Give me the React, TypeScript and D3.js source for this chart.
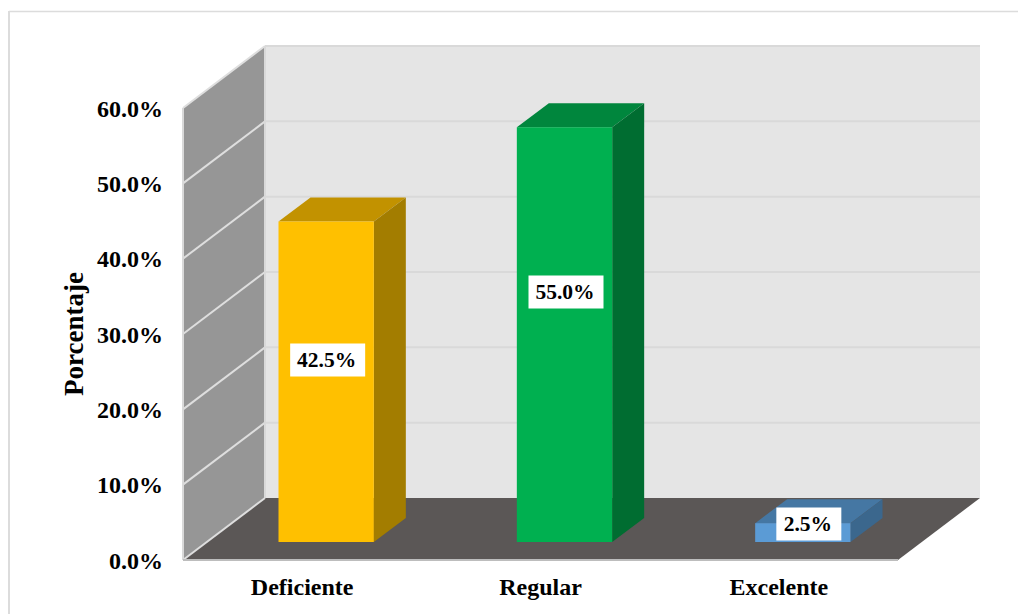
import React from "react";
import * as d3 from "d3";

const categories = ["Deficiente", "Regular", "Excelente"];
const percentages = [42.5, 55.0, 2.5];
const axisTicks = [0, 10, 20, 30, 40, 50, 60];

const frontFaces = ["#ffc000", "#00b050", "#5b9bd5"];
const topFaces = ["#c29200", "#00863d", "#4577a3"];
const sideFaces = ["#a37d00", "#006d31", "#3b678d"];
// Height of each value label above the foot of its bar.
const labelRise = [182, 250, 18];

const WIDTH = 1018;
const HEIGHT = 614;
const SERIF = "'Liberation Serif', 'Times New Roman', serif";

// Depth of the 3D box: the back wall is shifted up and to the right of the front edge.
const wallDx = 82;
const wallDy = -62;
const barDx = 32;
const barDy = -24;

const frontY = d3.scaleLinear().domain([0, 60]).range([560, 108]);
const barY = d3.scaleLinear().domain([0, 60]).range([542, 89.5]);
const frontX = d3.scaleBand<string>().domain(categories).range([183, 898]).paddingInner(0.6).paddingOuter(0.3);
const barX = d3.scaleBand<string>().domain(categories).range([207, 922]).paddingInner(0.6).paddingOuter(0.3);

const poly = (pts: [number, number][]) => d3.line()(pts) + "Z";

export default function App() {
  const x0 = frontX.range()[0];
  const x1 = frontX.range()[1];
  const y0 = frontY(0);
  const yTop = frontY(60);
  const backX0 = x0 + wallDx;
  const backX1 = x1 + wallDx;

  return (
    <svg
      width={WIDTH}
      height={HEIGHT}
      viewBox={`0 0 ${WIDTH} ${HEIGHT}`}
      style={{ position: "absolute", left: 0, top: 0, display: "block", background: "#fff" }}
      fontFamily={SERIF}
    >
      {/* Outer frame: only the top and left edges fall inside the canvas */}
      <line x1={9} y1={11.5} x2={WIDTH} y2={11.5} stroke="#dcdcdc" strokeWidth={1.5} />
      <line x1={9} y1={11} x2={9} y2={HEIGHT} stroke="#dcdcdc" strokeWidth={2} />

      {/* Back wall */}
      <path
        d={poly([
          [backX0, yTop + wallDy],
          [backX1, yTop + wallDy],
          [backX1, y0 + wallDy],
          [backX0, y0 + wallDy],
        ])}
        fill="#e5e5e5"
      />
      {/* Side wall */}
      <path
        d={poly([
          [x0, yTop],
          [backX0, yTop + wallDy],
          [backX0, y0 + wallDy],
          [x0, y0],
        ])}
        fill="#969696"
      />
      {/* Floor */}
      <path
        d={poly([
          [x0, y0],
          [backX0, y0 + wallDy],
          [backX1, y0 + wallDy],
          [x1, y0],
        ])}
        fill="#5b5756"
      />

      {/* Gridlines run across the back wall and fold down the side wall */}
      {axisTicks.map((t) => (
        <g key={t} fill="none">
          {t > 0 && (
            <line
              x1={backX0}
              x2={backX1}
              y1={frontY(t) + wallDy}
              y2={frontY(t) + wallDy}
              stroke="#d9d9d9"
              strokeWidth={2}
            />
          )}
          <line
            x1={x0}
            y1={frontY(t)}
            x2={backX0}
            y2={frontY(t) + wallDy}
            stroke="#dedede"
            strokeWidth={2}
          />
        </g>
      ))}
      <line x1={x0} x2={x0} y1={yTop} y2={y0} stroke="#d9d9d9" strokeWidth={2} />
      <line x1={backX0} x2={backX0} y1={yTop + wallDy} y2={y0 + wallDy} stroke="#d9d9d9" strokeWidth={2} />
      <line x1={x0} x2={x1} y1={y0} y2={y0} stroke="#bdbdbd" strokeWidth={2} />

      {/* Bars */}
      {categories.map((c, i) => {
        const left = barX(c)!;
        const right = left + barX.bandwidth();
        const foot = barY(0);
        const top = barY(percentages[i]);
        return (
          <g key={c}>
            <path
              d={poly([
                [left, top],
                [left + barDx, top + barDy],
                [right + barDx, top + barDy],
                [right, top],
              ])}
              fill={topFaces[i]}
            />
            <path
              d={poly([
                [right, top],
                [right + barDx, top + barDy],
                [right + barDx, foot + barDy],
                [right, foot],
              ])}
              fill={sideFaces[i]}
            />
            <rect x={left} y={top} width={barX.bandwidth()} height={foot - top} fill={frontFaces[i]} />
          </g>
        );
      })}

      {/* Value labels on white plates */}
      {categories.map((c, i) => {
        const cx = barX(c)! + barX.bandwidth() / 2 + (i === 2 ? 6 : 1.5);
        const cy = barY(0) - labelRise[i];
        const w = i === 2 ? 65 : 75;
        return (
          <g key={c}>
            <rect x={cx - w / 2} y={cy - 16.5} width={w} height={33} fill="#fff" />
            <text x={cx - 1} y={cy + 7} textAnchor="middle" fontSize={21.5} fontWeight={700} fill="#000">
              {d3.format(".1f")(percentages[i])}%
            </text>
          </g>
        );
      })}

      {/* Value axis labels */}
      {axisTicks.map((t) => (
        <text key={t} x={163} y={frontY(t) + 8.5} textAnchor="end" fontSize={24} fontWeight={700} fill="#000">
          {d3.format(".1f")(t)}%
        </text>
      ))}
      <text
        transform="translate(83,334) rotate(-90)"
        textAnchor="middle"
        fontSize={27}
        fontWeight={700}
        fill="#000"
      >
        Porcentaje
      </text>

      {/* Category labels */}
      {categories.map((c) => (
        <text
          key={c}
          x={frontX(c)! + frontX.bandwidth() / 2}
          y={595}
          textAnchor="middle"
          fontSize={24}
          fontWeight={700}
          fill="#000"
        >
          {c}
        </text>
      ))}
    </svg>
  );
}
